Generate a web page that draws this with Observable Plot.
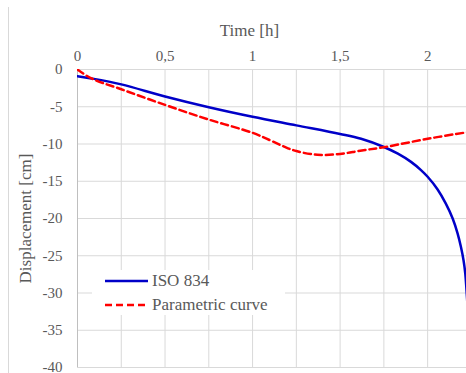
<!DOCTYPE html>
<html>
<head>
<meta charset="utf-8">
<script src="https://cdn.jsdelivr.net/npm/d3@7"></script>
<script src="https://cdn.jsdelivr.net/npm/@observablehq/plot@0.6"></script>
<style>
  html, body { margin: 0; padding: 0; background: #fff; font-family: "Liberation Serif", "Times New Roman", "DejaVu Serif", serif; }
  #wrap { position: relative; width: 466px; height: 373px; overflow: hidden; }
  #wrap svg text { font-family: "Liberation Serif", "Times New Roman", "DejaVu Serif", serif; }
  #border { position: absolute; left: 8px; top: 7px; bottom: 0; width: 1px; background: #d9d9d9; }
  #legend { position: absolute; left: 92px; top: 270px; width: 193px; height: 45px; background: #fff;
            font-family: "Liberation Serif", "Times New Roman", "DejaVu Serif", serif; font-size: 17px; color: #595959; }
  .row { position: absolute; left: 0; height: 24px; display: flex; align-items: center; white-space: nowrap; }
  .row svg { margin-left: 13px; margin-right: 4px; }
</style>
</head>
<body>
<div id="wrap">
  <div id="chart"></div>
  <div id="border"></div>
  <div id="legend"></div>
</div>
<script>
const seriesNames = ["ISO 834", "Parametric curve"];
const seriesColors = ["#0000c8", "#ff0000"];

const isoTime = [0, 0.08, 0.25, 0.5, 0.75, 1.0, 1.25, 1.5, 1.62, 1.75, 1.83, 1.905, 1.962, 2.0, 2.057, 2.104, 2.143, 2.171, 2.19, 2.205, 2.215, 2.222, 2.23];
const isoDisp = [-0.9, -1.2, -2.0, -3.63, -5.07, -6.35, -7.5, -8.65, -9.3, -10.4, -11.3, -12.4, -13.5, -14.4, -16.1, -18.0, -20.0, -22.0, -23.8, -25.6, -27.4, -29.6, -32.5];

const parTime = [0, 0.08, 0.25, 0.5, 0.75, 1.0, 1.1, 1.18, 1.25, 1.37, 1.5, 1.615, 1.75, 2.0, 2.205, 2.25];
const parDisp = [0, -1.2, -2.65, -4.75, -6.72, -8.5, -9.5, -10.35, -10.95, -11.45, -11.33, -10.9, -10.43, -9.3, -8.5, -8.35];

const xTicks = [0, 0.5, 1, 1.5, 2];
const xTickLabels = ["0", "0,5", "1", "1,5", "2"];
const xGrid = [0, 0.25, 0.5, 0.75, 1, 1.25, 1.5, 1.75, 2];
const yTicks = [0, -5, -10, -15, -20, -25, -30, -35, -40];
const yTickLabels = ["0", "-5", "-10", "-15", "-20", "-25", "-30", "-35", "-40"];
const xTitle = "Time [h]";
const yTitle = "Displacement [cm]";

const iso = isoTime.map((t, i) => ({t, d: isoDisp[i]}));
const par = parTime.map((t, i) => ({t, d: parDisp[i]}));

const font = "'Liberation Serif', 'Times New Roman', 'DejaVu Serif', serif";
const textColor = "#595959";

const chart = Plot.plot({
  width: 466,
  height: 373,
  marginLeft: 77,
  marginRight: 0,
  marginTop: 69,
  marginBottom: 6,
  style: { fontFamily: font, background: "#fff", overflow: "visible" },
  x: { domain: [0, 2.222], axis: null },
  y: { domain: [-40, 0], axis: null },
  marks: [
    Plot.ruleX(xGrid, { x: d => d, stroke: "#d9d9d9", strokeWidth: 1 }),
    Plot.ruleY(yTicks, { y: d => d, stroke: "#d9d9d9", strokeWidth: 1 }),
    Plot.ruleX([0], { x: d => d, stroke: "#bfbfbf", strokeWidth: 1 }),
    Plot.line(iso, { x: "t", y: "d", stroke: seriesColors[0], strokeWidth: 2.5, curve: "catmull-rom", clip: true }),
    Plot.line(par, { x: "t", y: "d", stroke: seriesColors[1], strokeWidth: 2.5, strokeDasharray: "7,4", curve: "catmull-rom", clip: true }),
    Plot.text(xTicks, { x: d => d, text: (d, i) => xTickLabels[i], frameAnchor: "top", dy: -19, fontSize: 15, fill: textColor }),
    Plot.text(yTicks, { y: d => d, text: (d, i) => yTickLabels[i], frameAnchor: "left", dx: -15, textAnchor: "end", fontSize: 15, fill: textColor }),
    Plot.text([xTitle], { text: d => d, frameAnchor: "top-left", dx: 172, dy: -46, textAnchor: "middle", fontSize: 17, fill: textColor }),
    Plot.text([yTitle], { text: d => d, frameAnchor: "left", dx: -52, rotate: -90, textAnchor: "middle", fontSize: 17, fill: textColor })
  ]
});
document.getElementById("chart").appendChild(chart);

const legend = document.getElementById("legend");
seriesNames.forEach((name, i) => {
  const row = document.createElement("div");
  row.className = "row";
  row.style.top = (i === 0 ? -1 : 23) + "px";
  const dash = i === 1 ? ' stroke-dasharray="7,4"' : '';
  row.innerHTML = `<svg width="43" height="6"><line x1="0" y1="3" x2="43" y2="3" stroke="${seriesColors[i]}" stroke-width="2.5"${dash}/></svg><span>${name}</span>`;
  legend.appendChild(row);
});
</script>
</body>
</html>
